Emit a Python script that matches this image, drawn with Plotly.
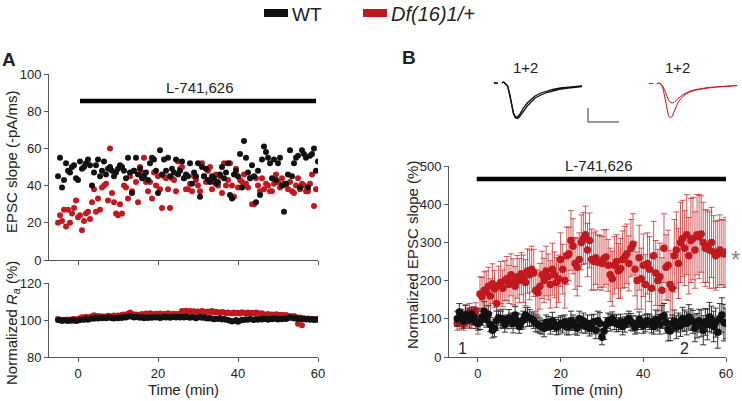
import plotly.graph_objects as go

W, H = 742, 401

# ---- data -------------------------------------------------------------
# sample times (min), every 30 s from -5 to 60
time_min = [-5 + 0.5 * i for i in range(131)]

# Panel A: EPSC slope (-pA/ms), single example cells
wt_slope = [45, 55, 39, 43, 52, 48, 47, 50, 51, 44,
            43, 53, 49, 50, 52, 54, 51, 40, 47, 51,
            54, 45, 48, 53, 46, 49, 50, 48, 45, 47,
            49, 51, 50, 48, 44, 55, 47, 36, 48, 55,
            46, 49, 44, 45, 47, 43, 52, 55, 54, 48,
            36, 59, 46, 54, 48, 55, 45, 49, 47, 54,
            46, 48, 53, 44, 46, 45, 52, 41, 47, 45,
            52, 34, 50, 45, 49, 43, 42, 45, 44, 41,
            42, 46, 50, 44, 47, 52, 35, 33, 46, 48,
            45, 57, 39, 64, 55, 47, 44, 51, 45, 31,
            48, 35, 54, 61, 58, 55, 52, 44, 54, 43,
            52, 55, 40, 26, 41, 46, 59, 45, 52, 55,
            56, 39, 59, 57, 55, 39, 56, 57, 60, 48,
            53]
df_slope = [20, 24, 21, 27, 18, 27, 20, 25, 28, 32,
            23, 24, 16, 21, 25, 26, 22, 31, 38, 26,
            33, 27, 39, 40, 41, 32, 60, 36, 31, 25,
            24, 30, 25, 40, 39, 33, 45, 37, 48, 42,
            31, 50, 47, 55, 42, 37, 42, 33, 47, 40,
            45, 38, 28, 45, 44, 38, 28, 44, 43, 37,
            53, 49, 50, 44, 38, 38, 41, 37, 45, 43,
            40, 37, 52, 45, 42, 48, 50, 38, 42, 46,
            40, 45, 36, 52, 40, 43, 52, 40, 34, 49,
            39, 43, 42, 46, 41, 39, 44, 30, 30, 44,
            40, 37, 44, 38, 41, 40, 37, 37, 41, 46,
            42, 39, 44, 41, 40, 38, 42, 37, 36, 40,
            44, 38, 41, 40, 37, 37, 41, 46, 29, 38,
            38]

# Panel A: normalized access resistance (%)
wt_ra = [100.0, 99.8, 99.5, 100.0, 99.7, 99.4, 99.8, 99.6, 100.0, 99.5,
         99.7, 100.0, 100.3, 100.1, 100.5, 100.2, 100.6, 101.0, 100.7, 101.2,
         100.8, 101.4, 101.0, 101.3, 100.9, 101.2, 101.5, 101.0, 100.8, 101.2,
         101.0, 101.4, 101.1, 101.6, 101.3, 101.8, 102.2, 101.7, 101.4, 101.9,
         101.5, 101.2, 101.6, 101.0, 101.4, 101.1, 101.5, 101.2, 101.6, 101.3,
         101.5, 101.1, 101.4, 101.7, 101.3, 101.6, 101.2, 101.5, 101.8, 101.4,
         101.6, 101.3, 101.7, 101.4, 101.9, 101.5, 101.2, 101.6, 101.3, 101.0,
         101.4, 101.7, 101.2, 101.5, 101.0, 100.8, 101.1, 100.7, 100.4, 100.8,
         100.5, 100.9, 100.3, 100.6, 100.2, 100.0, 99.6, 99.2, 99.5, 100.0,
         99.0, 99.6, 100.2, 100.0, 100.4, 100.1, 100.6, 100.3, 100.0, 100.5,
         100.2, 100.6, 100.3, 100.8, 100.5, 100.2, 100.7, 100.4, 100.9, 100.6,
         100.3, 100.7, 100.4, 100.8, 100.5, 101.0, 101.5, 101.2, 100.8, 101.0,
         100.6, 100.9, 100.4, 100.7, 100.3, 100.6, 100.2, 100.5, 100.0, 100.4,
         100.1]
df_ra = [100.5, 100.2, 100.0, 99.8, 100.1, 100.3, 100.0, 100.4, 100.6, 100.2,
         100.5, 101.0, 101.5, 101.2, 101.8, 101.4, 101.6, 102.0, 102.6, 101.9,
         102.2, 101.8, 102.0, 101.6, 101.9, 102.3, 101.7, 102.0, 102.4, 102.1,
         102.5, 102.2, 102.8, 103.0, 102.6, 103.4, 104.0, 103.2, 102.8, 103.0,
         102.5, 102.8, 103.2, 102.6, 103.5, 103.0, 103.6, 103.2, 102.9, 103.4,
         103.1, 103.5, 102.8, 103.3, 103.0, 103.6, 103.2, 102.9, 103.4, 103.0,
         103.3, 103.0, 104.8, 104.6, 105.0, 104.5, 104.9, 104.4, 104.7, 104.3,
         104.6, 104.2, 104.8, 104.5, 104.1, 104.6, 104.3, 104.9, 104.0, 104.4,
         104.2, 103.8, 104.3, 104.0, 103.7, 104.1, 103.8, 103.5, 104.0, 103.6,
         103.9, 103.5, 104.2, 103.8, 103.6, 104.0, 103.4, 103.9, 103.7, 104.1,
         103.8, 103.2, 103.6, 103.0, 102.8, 103.2, 102.6, 103.0, 102.7, 103.1,
         102.8, 102.5, 102.9, 102.4, 102.7, 102.2, 102.0, 101.8, 102.1, 101.6,
         98.0, 101.4, 97.2, 101.0, 100.6, 100.8, 100.4, 100.6, 100.2, 100.5,
         100.3]

# Panel B: normalized EPSC slope (%), mean and SEM
wt_norm = [100, 118, 105, 95, 110, 108, 98, 112, 105, 90,
           88, 92, 105, 120, 98, 112, 85, 70, 75, 95,
           103, 98, 100, 85, 92, 102, 95, 88, 110, 95,
           80, 92, 98, 110, 105, 102, 100, 95, 88, 85,
           82, 78, 75, 90, 88, 80, 95, 85, 78, 82,
           88, 85, 92, 78, 80, 95, 90, 82, 75, 100,
           85, 95, 80, 88, 75, 85, 92, 70, 95, 88,
           52, 68, 85, 95, 90, 100, 92, 88, 85, 92,
           80, 85, 95, 100, 92, 88, 78, 85, 98, 90,
           82, 88, 95, 92, 85, 80, 98, 90, 85, 105,
           108, 90, 72, 68, 88, 95, 78, 90, 82, 100,
           95, 88, 105, 98, 92, 75, 82, 95, 88, 70,
           92, 85, 105, 98, 80, 90, 65, 100, 110, 90,
           88]
wt_sem = [20, 22, 18, 20, 25, 20, 22, 18, 20, 15,
          18, 20, 22, 25, 20, 22, 18, 20, 22, 25,
          20, 22, 25, 20, 18, 22, 20, 25, 22, 20,
          18, 20, 22, 20, 25, 22, 18, 20, 22, 20,
          20, 18, 22, 20, 18, 20, 22, 18, 20, 22,
          20, 22, 18, 20, 22, 25, 20, 22, 18, 20,
          22, 20, 18, 22, 20, 25, 20, 22, 25, 28,
          20, 22, 18, 20, 22, 18, 20, 22, 18, 20,
          22, 20, 18, 20, 22, 20, 18, 22, 20, 18,
          20, 22, 18, 20, 22, 20, 25, 22, 25, 30,
          32, 28, 30, 25, 22, 28, 30, 25, 28, 30,
          28, 30, 32, 28, 30, 35, 32, 30, 35, 38,
          35, 40, 38, 35, 40, 38, 42, 40, 45, 48,
          40]
df_norm = [88, 95, 105, 85, 112, 100, 118, 92, 108, 122,
           90, 165, 158, 175, 170, 185, 160, 192, 178, 140,
           188, 195, 180, 200, 205, 190, 215, 197, 185, 210,
           200, 218, 205, 195, 225, 215, 230, 220, 175, 168,
           185, 215, 200, 225, 210, 190, 230, 215, 195, 205,
           255, 230, 200, 265, 270, 305, 290, 245, 235, 255,
           300, 310, 320, 280, 305, 255, 250, 260, 248, 250,
           245, 258, 262, 240, 215, 205, 240, 250, 225, 232,
           255, 262, 270, 245, 285, 295, 230, 200, 260, 205,
           240, 190, 245, 230, 180, 265, 220, 200, 210, 175,
           285, 235, 240, 190, 180, 265, 280, 245, 300, 310,
           285, 320, 265, 305, 310, 280, 320, 315, 322, 300,
           285, 290, 280, 300, 275, 265, 270, 280, 275, 270,
           275]
df_sem = [18, 22, 20, 15, 25, 20, 22, 18, 24, 20,
          30, 45, 50, 48, 55, 50, 45, 52, 48, 40,
          50, 55, 48, 52, 58, 50, 55, 60, 52, 56,
          58, 55, 62, 60, 58, 65, 60, 62, 55, 58,
          60, 62, 58, 65, 60, 62, 68, 60, 65, 62,
          70, 65, 72, 75, 70, 78, 72, 68, 75, 70,
          72, 68, 75, 70, 72, 80, 75, 70, 72, 68,
          70, 75, 72, 68, 70, 72, 75, 70, 72, 78,
          75, 80, 78, 72, 75, 80, 70, 75, 85, 80,
          82, 78, 80, 85, 80, 90, 85, 82, 88, 85,
          90, 85, 92, 88, 90, 95, 100, 92, 105, 100,
          98, 105, 100, 110, 108, 100, 105, 110, 100, 105,
          100, 95, 100, 92, 95, 90, 88, 92, 85, 88,
          90]

# example EPSC traces (1 = baseline, 2 = end of drug), time in ms, amplitude
trace_ms = [0, 1, 2, None, 4, 5, 6, 7, 8, 9, 10, 11, 12, 13, 14, 15, 17, 19, 21, 24, 27, 30, 34, 38, 42, 45]
wt_trace1 = [1, 1, 1, None, 1, 2, 0, -2, -10, -22, -30, -34, -34.5, -33, -30, -27, -22, -18, -14, -11, -8.5, -7, -5, -4, -3, -2.5]
wt_trace2 = [1, 1, 1, None, 1, 2, 0, -2, -10, -21, -29, -33, -33, -31, -27, -24, -19, -15, -12, -9, -7, -5.5, -4, -3, -2.5, -2]
df_trace1 = [0.5, 0.5, 0.5, None, 0, 1, 0, -2, -6, -12, -16, -18.5, -19, -18, -16, -14, -11, -9, -7, -5.5, -4.5, -3.5, -3, -2.5, -2, -1.5]
df_trace2 = [0.5, 0.5, 0.5, None, 0, 1, 0, -3, -12, -24, -32, -34, -32, -27, -22, -18, -13, -10, -8, -6, -5, -4, -3, -2.5, -2, -1.5]

drug_start, drug_end = 0, 60
drug_name = "L-741,626"

RED = "#C1191F"
BLACK = "#111111"
FONT = "Arial, Liberation Sans, sans-serif"


def fx(p):
    return p / W


def fy(p):
    return 1 - p / H


fig = go.Figure()

# A top
fig.add_trace(go.Scatter(x=time_min, y=df_slope, mode="markers", marker=dict(size=6, color=RED),
                         xaxis="x", yaxis="y", showlegend=False))
fig.add_trace(go.Scatter(x=time_min, y=wt_slope, mode="markers", marker=dict(size=6, color=BLACK),
                         xaxis="x", yaxis="y", showlegend=False))
# A bottom
fig.add_trace(go.Scatter(x=time_min, y=df_ra, mode="markers", marker=dict(size=6, color=RED),
                         xaxis="x2", yaxis="y2", showlegend=False))
fig.add_trace(go.Scatter(x=time_min, y=wt_ra, mode="markers", marker=dict(size=6, color=BLACK),
                         xaxis="x2", yaxis="y2", showlegend=False))
# B
fig.add_trace(go.Scatter(x=time_min, y=df_norm, mode="markers", marker=dict(size=7.5, color=RED),
                         error_y=dict(type="data", array=df_sem, color="rgba(200,35,35,0.75)",
                                      thickness=1, width=3),
                         xaxis="x3", yaxis="y3", showlegend=False))
fig.add_trace(go.Scatter(x=time_min, y=wt_norm, mode="markers", marker=dict(size=7.5, color=BLACK),
                         error_y=dict(type="data", array=wt_sem, color="#333333",
                                      thickness=1, width=3),
                         xaxis="x3", yaxis="y3", showlegend=False))
# example traces
fig.add_trace(go.Scatter(x=trace_ms, y=wt_trace1, mode="lines", line=dict(color=BLACK, width=1.3),
                         xaxis="x4", yaxis="y4", showlegend=False))
fig.add_trace(go.Scatter(x=trace_ms, y=wt_trace2, mode="lines", line=dict(color=BLACK, width=1.3),
                         xaxis="x4", yaxis="y4", showlegend=False))
fig.add_trace(go.Scatter(x=trace_ms, y=df_trace1, mode="lines", line=dict(color=RED, width=1),
                         xaxis="x5", yaxis="y5", showlegend=False))
fig.add_trace(go.Scatter(x=trace_ms, y=df_trace2, mode="lines", line=dict(color=RED, width=1),
                         xaxis="x5", yaxis="y5", showlegend=False))

axis_common = dict(showline=True, linecolor="#555", linewidth=1, ticks="outside", ticklen=4,
                   tickcolor="#555", showgrid=False, zeroline=False, automargin=False,
                   tickfont=dict(family=FONT, size=13, color="#222"))
title_font = dict(family=FONT, size=15, color="#222")

fig.update_layout(
    width=W, height=H, autosize=False,
    margin=dict(l=0, r=0, t=0, b=0),
    paper_bgcolor="white", plot_bgcolor="white",
    font=dict(family=FONT, color="#222"),
    xaxis=dict(domain=[fx(49), fx(318)], range=[-7.25, 60], tickvals=[0, 20, 40, 60],
               showticklabels=False, anchor="y", **axis_common),
    yaxis=dict(domain=[fy(260), fy(74)], range=[0, 100], dtick=20, anchor="x", **axis_common),
    xaxis2=dict(domain=[fx(49), fx(318)], range=[-7.25, 60], tickvals=[0, 20, 40, 60], anchor="y2",
                title=dict(text="Time (min)", font=title_font, standoff=3), **axis_common),
    yaxis2=dict(domain=[fy(357), fy(283)], range=[80, 120], dtick=20, anchor="x2", **axis_common),
    xaxis3=dict(domain=[fx(449), fx(726)], range=[-7, 60], tickvals=[0, 20, 40, 60], anchor="y3",
                title=dict(text="Time (min)", font=title_font, standoff=3), **axis_common),
    yaxis3=dict(domain=[fy(357), fy(166)], range=[0, 500], dtick=100, anchor="x3", **axis_common),
    xaxis4=dict(domain=[fx(490), fx(584)], range=[-2, 46], visible=False, anchor="y4"),
    yaxis4=dict(domain=[fy(124), fy(72)], range=[-40, 12], visible=False, anchor="x4"),
    xaxis5=dict(domain=[fx(645), fx(739)], range=[-2, 46], visible=False, anchor="y5"),
    yaxis5=dict(domain=[fy(124), fy(72)], range=[-40, 12], visible=False, anchor="x5"),
)

shapes = [
    # drug application bars
    dict(type="line", xref="x", yref="paper", x0=drug_start + 0.5, x1=drug_end - 0.5,
         y0=fy(101), y1=fy(101), line=dict(color="black", width=4.5)),
    dict(type="line", xref="x3", yref="paper", x0=drug_start - 0.3, x1=drug_end + 0.5,
         y0=fy(179), y1=fy(179), line=dict(color="black", width=4.5)),
    # scale bar
    dict(type="line", xref="paper", yref="paper", x0=fx(588), x1=fx(588), y0=fy(108), y1=fy(122),
         line=dict(color="#333", width=1)),
    dict(type="line", xref="paper", yref="paper", x0=fx(588), x1=fx(619), y0=fy(122), y1=fy(122),
         line=dict(color="#333", width=1)),
    # legend swatches
    dict(type="rect", xref="paper", yref="paper", x0=fx(264), x1=fx(288), y0=fy(17), y1=fy(9),
         fillcolor=BLACK, line=dict(width=0)),
    dict(type="rect", xref="paper", yref="paper", x0=fx(363), x1=fx(387), y0=fy(17), y1=fy(9),
         fillcolor=RED, line=dict(width=0)),
]
fig.update_layout(shapes=shapes)


def label(text, x, y, size=15, color="#222", bold=False, xanchor="center", angle=0):
    if bold:
        text = "<b>" + text + "</b>"
    fig.add_annotation(text=text, x=fx(x), y=fy(y), xref="paper", yref="paper", showarrow=False,
                       xanchor=xanchor, yanchor="middle", textangle=angle,
                       font=dict(family=FONT, size=size, color=color))


# y-axis titles
label("EPSC slope (-pA/ms)", 12, 162, angle=-90)
label("Normalized <i>R<sub>a</sub></i> (%)", 12, 323, angle=-90)
label("Normalized EPSC slope (%)", 412, 255, angle=-90)

label("WT", 290, 14, size=19, xanchor="left")
label("<i>Df(16)1/+</i>", 389, 14, size=20, xanchor="left")
label("A", 9, 59, size=19, bold=True)
label("B", 409, 58, size=19, bold=True)
label(drug_name, 200, 87)
label(drug_name, 599, 165)
label("1+2", 525, 67)
label("1+2", 677, 67)
label("1", 462, 348, size=16)
label("2", 684, 348, size=16)
label("*", 735, 259, size=24, color="#888")

# the page body has a default 8px margin; remove it so the figure fills the window
fig.write_html("out.html", config={"displayModeBar": False},
               post_script="document.body.style.margin='0px';")
